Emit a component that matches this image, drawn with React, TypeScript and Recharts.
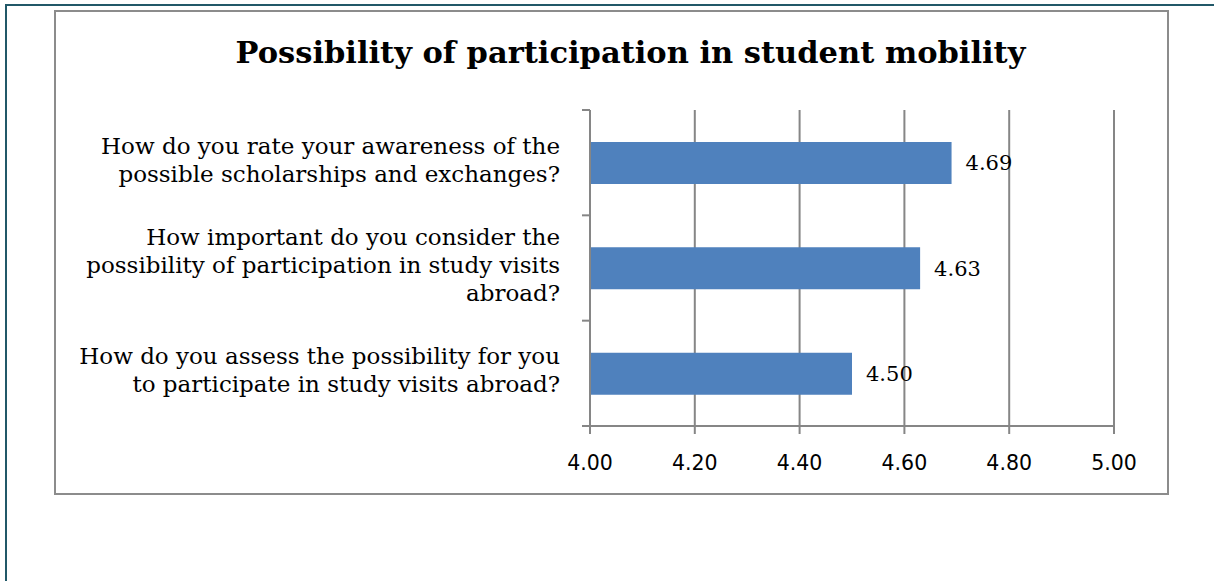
import React from "react";
import {
  Bar,
  BarChart,
  CartesianGrid,
  LabelList,
  XAxis,
  YAxis,
} from "recharts";

const QUESTIONS = [
  "How do you rate your awareness of the possible scholarships and exchanges?",
  "How important do you consider the possibility of participation in study visits abroad?",
  "How do you assess the possibility for you to participate in study visits abroad?",
];

const QUESTION_LINES = [
  ["How do you rate your awareness of the", "possible scholarships and exchanges?"],
  ["How important do you consider the", "possibility of participation in study visits", "abroad?"],
  ["How do you assess the possibility for you", "to participate in study visits abroad?"],
];

const SCORES = [4.69, 4.63, 4.5];

const X_TICKS = [4.0, 4.2, 4.4, 4.6, 4.8, 5.0];

const TITLE = "Possibility of participation in student mobility";

const SERIF = "'DejaVu Serif', serif";
const GRID = "#868686";
const TICK_LEN = 8;
const TICK_GAP = 30;

const data = QUESTIONS.map((q, i) => ({
  question: q,
  score: SCORES[i],
}));

// category label + Excel-style tick marks on the band boundaries
function QuestionTick(props: any) {
  const { x, y, index, payload, visibleTicksCount } = props;
  const lines = QUESTION_LINES[index] || [];
  const lh = 28;
  const start = y - ((lines.length - 1) * lh) / 2;
  const half = payload?.offset ?? 0;
  const axisX = x + TICK_GAP;
  const isLast = index === (visibleTicksCount ?? QUESTIONS.length) - 1;
  return (
    <g>
      <line
        x1={axisX - TICK_LEN}
        x2={axisX}
        y1={y - half}
        y2={y - half}
        stroke={GRID}
        strokeWidth={2}
      />
      {isLast && (
        <line
          x1={axisX - TICK_LEN}
          x2={axisX}
          y1={y + half}
          y2={y + half}
          stroke={GRID}
          strokeWidth={2}
        />
      )}
      <text
        x={x}
        y={start}
        textAnchor="end"
        fontFamily={SERIF}
        fontSize={23}
        fill="#000"
      >
        {lines.map((l: string, i: number) => (
          <tspan key={i} x={x} y={start + i * lh} dy="0.22em">
            {l}
          </tspan>
        ))}
      </text>
    </g>
  );
}

export default function App() {
  return (
    <div
      style={{
        position: "absolute",
        left: 0,
        top: 0,
        width: 1214,
        height: 581,
        background: "#fff",
        overflow: "hidden",
      }}
    >
      {/* outer page frame */}
      <div
        style={{
          position: "absolute",
          left: 5,
          top: 4,
          width: 1214,
          height: 590,
          borderLeft: "2px solid #215868",
          borderTop: "2px solid #215868",
        }}
      />
      {/* chart frame */}
      <div
        style={{
          position: "absolute",
          left: 54,
          top: 10,
          width: 1111,
          height: 481,
          border: "2px solid #8c8c8c",
        }}
      />
      <div
        style={{
          position: "absolute",
          left: 75,
          top: 34,
          width: 1111,
          textAlign: "center",
          fontFamily: SERIF,
          fontWeight: "bold",
          fontSize: 30.5,
          color: "#000",
        }}
      >
        {TITLE}
      </div>
      <div style={{ position: "absolute", left: 0, top: 0 }}>
        <BarChart
          width={1214}
          height={581}
          data={data}
          layout="vertical"
          margin={{ top: 110, right: 100, bottom: 125, left: 60 }}
          barSize={42}
        >
          <CartesianGrid
            horizontal={false}
            vertical
            stroke={GRID}
            strokeWidth={2}
          />
          <XAxis
            type="number"
            domain={[4, 5]}
            ticks={X_TICKS}
            allowDataOverflow
            height={30}
            tickFormatter={(v: number) => v.toFixed(2)}
            stroke={GRID}
            strokeWidth={2}
            tickSize={8}
            tickMargin={21}
            tick={{
              fill: "#000",
              fontSize: 20.5,
              fontFamily: "'DejaVu Sans', sans-serif",
            }}
          />
          <YAxis
            type="category"
            dataKey="question"
            width={530}
            axisLine={{ stroke: GRID, strokeWidth: 2 }}
            tickLine={false}
            tickSize={0}
            tickMargin={TICK_GAP}
            tick={<QuestionTick />}
            interval={0}
          />
          <Bar dataKey="score" fill="#4F81BD" isAnimationActive={false}>
            <LabelList
              dataKey="score"
              position="right"
              offset={14}
              formatter={(v: any) => Number(v).toFixed(2)}
              fill="#000"
              fontFamily={SERIF}
              fontSize={21}
            />
          </Bar>
        </BarChart>
      </div>
    </div>
  );
}
